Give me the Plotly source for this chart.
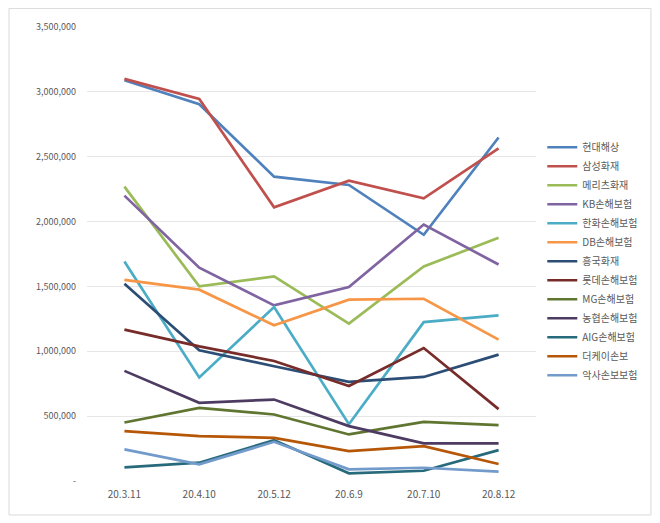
import plotly.graph_objects as go

dates = ["20.3.11", "20.4.10", "20.5.12", "20.6.9", "20.7.10", "20.8.12"]

hyundai = [3090000, 2905000, 2346000, 2282000, 1898000, 2648000]
samsung = [3100000, 2946000, 2110000, 2315000, 2179000, 2564000]
meritz = [2269000, 1500000, 1577000, 1213000, 1654000, 1875000]
kb = [2200000, 1644000, 1354000, 1495000, 1977000, 1669000]
hanwha = [1692000, 798000, 1341000, 438000, 1225000, 1277000]
db = [1551000, 1475000, 1200000, 1398000, 1405000, 1090000]
heungkuk = [1521000, 1008000, 885000, 764000, 802000, 974000]
lotte = [1167000, 1038000, 925000, 733000, 1025000, 554000]
mg = [451000, 564000, 513000, 359000, 456000, 431000]
nonghyup = [849000, 603000, 628000, 423000, 290000, 290000]
aig = [105000, 141000, 315000, 59000, 79000, 238000]
thek = [385000, 346000, 333000, 231000, 269000, 131000]
axa = [244000, 128000, 302000, 90000, 102000, 72000]

names = ["현대해상", "삼성화재", "메리츠화재", "KB손해보험", "한화손해보험", "DB손해보험",
         "흥국화재", "롯데손해보험", "MG손해보험", "농협손해보험", "AIG손해보험", "더케이손보", "악사손보보험"]
series = [hyundai, samsung, meritz, kb, hanwha, db, heungkuk, lotte, mg, nonghyup, aig, thek, axa]
colors = ["#4F81BD", "#C0504D", "#9BBB59", "#8064A2", "#4BACC6", "#F79646",
          "#2C4D75", "#772C2A", "#5F7530", "#4D3B62", "#276A7C", "#B65708", "#729ACA"]

y_ticks = [0, 500000, 1000000, 1500000, 2000000, 2500000, 3000000, 3500000]
y_ticktext = ["-", "500,000", "1,000,000", "1,500,000", "2,000,000", "2,500,000", "3,000,000", "3,500,000"]

fig = go.Figure()
for n, s, c in zip(names, series, colors):
    fig.add_trace(go.Scatter(x=dates, y=s, name=n, mode="lines",
                             line=dict(color=c, width=2.7)))

fig.update_layout(
    width=660, height=523,
    margin=dict(l=79, r=132, t=19, b=50),
    paper_bgcolor="white", plot_bgcolor="white",
    font=dict(family="Noto Sans CJK KR, Noto Sans, sans-serif", color="#595959"),
    showlegend=True,
    legend=dict(x=1.014, y=0.484, xanchor="left", yanchor="middle",
                font=dict(size=10, color="#595959"), tracegroupgap=0,
                itemwidth=30),
    xaxis=dict(type="category", showgrid=False, showline=False, zeroline=False,
               tickfont=dict(size=10, color="#595959"), ticks="", range=[-0.5, 5.5],
               ticklabelstandoff=6),
    yaxis=dict(range=[0, 3500000], tickvals=y_ticks, ticktext=y_ticktext,
               showgrid=True, gridcolor="#E6E6E6", gridwidth=1, zeroline=False,
               showline=False, tickfont=dict(size=9, color="#595959"), ticks="",
               ticklabelstandoff=10),
    shapes=[dict(type="rect", xref="paper", yref="paper",
                 x0=-0.1737, x1=1.256, y0=-0.0748, y1=1.041,
                 line=dict(color="#D9D9D9", width=1), fillcolor="rgba(0,0,0,0)", layer="below")],
)

fig.write_html("out.html")
